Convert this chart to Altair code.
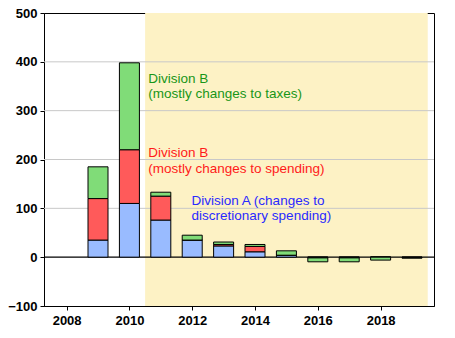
import altair as alt
import pandas as pd

years = [2009, 2010, 2011, 2012, 2013, 2014, 2015, 2016, 2017, 2018, 2019]
div_a = [35, 110, 76, 35, 23, 11, 4, -1.5, -1.5, 0, -1]
div_b_spend = [85, 110, 49, 0, 3, 11, 0, 0, 0, 0, 0]
div_b_tax = [65, 178, 8, 10, 5, 4, 9, -8, -8, -6, -1]

series_names = ["Division A", "Division B spending", "Division B taxes"]
series_colors = ["#99bbff", "#ff5a5a", "#80dc78"]

rows = []
for i, y in enumerate(years):
    for k, (name, vals) in enumerate(zip(series_names, [div_a, div_b_spend, div_b_tax])):
        rows.append({"year": y, "series": name, "value": vals[i], "order": k})
df = pd.DataFrame(rows)

shade = pd.DataFrame({"x": [2010.5], "x2": [2019.5]})
grid = pd.DataFrame({"v": [100, 200, 300, 400]})

ann_text = ["Division B", "(mostly changes to taxes)",
            "Division B", "(mostly changes to spending)",
            "Division A (changes to", "discretionary spending)"]
ann_x = [2010.6, 2010.6, 2010.6, 2010.6, 2011.98, 2011.98]
ann_y = [365, 335, 213, 181, 116, 85]
ann_c = ["#189618", "#189618", "#ff1a1a", "#ff1a1a", "#2a2aff", "#2a2aff"]
ann = pd.DataFrame({"t": ann_text, "x": ann_x, "y": ann_y, "c": ann_c})

xs = alt.Scale(domain=[2007.28, 2019.7], nice=False, zero=False, padding=0)
ys = alt.Scale(domain=[-100, 500], nice=False, padding=0)

xaxis = alt.Axis(values=list(range(2008, 2020)), format="d",
                 labelExpr="datum.value % 2 == 0 ? datum.label : ''",
                 title=None, grid=False, labelPadding=4)
yaxis = alt.Axis(values=list(range(-100, 501, 100)), title=None, grid=False, labelPadding=3)

shade_layer = alt.Chart(shade).mark_rect(color="#fdf2c5").encode(
    x=alt.X("x:Q", scale=xs, axis=xaxis),
    x2="x2:Q",
    y=alt.datum(500, scale=ys, axis=yaxis),
    y2=alt.datum(-100),
)

grid_layer = alt.Chart(grid).mark_rule(color="#c8c8c8", strokeWidth=1).encode(
    y=alt.Y("v:Q", scale=ys)
)

bars = alt.Chart(df).mark_bar(size=20, stroke="black", strokeWidth=1).encode(
    x=alt.X("year:Q", scale=xs),
    y=alt.Y("value:Q", scale=ys, stack="zero"),
    color=alt.Color("series:N", scale=alt.Scale(domain=series_names, range=series_colors), legend=None),
    order=alt.Order("order:Q"),
)

zero_layer = alt.Chart(pd.DataFrame({"v": [0]})).mark_rule(color="black", strokeWidth=1.2).encode(
    y=alt.Y("v:Q", scale=ys)
)

text_layer = alt.Chart(ann).mark_text(align="left", baseline="middle", font="Liberation Sans",
                                      fontSize=13.5).encode(
    x=alt.X("x:Q", scale=xs),
    y=alt.Y("y:Q", scale=ys),
    text="t:N",
    color=alt.Color("c:N", scale=None),
)

chart = alt.layer(shade_layer, grid_layer, zero_layer, bars, text_layer).properties(
    width=390, height=293,
    padding={"left": 44, "top": 13, "right": 21, "bottom": 32},
    autosize="none",
    background="white",
).configure_view(stroke="black", strokeWidth=1).configure_axis(
    domainColor="black", tickColor="black", tickSize=4, labelColor="black",
    labelFont="Liberation Sans", labelFontWeight="bold", labelFontSize=13,
)

chart.save("out.html", embed_options={"renderer": "svg", "actions": False})
